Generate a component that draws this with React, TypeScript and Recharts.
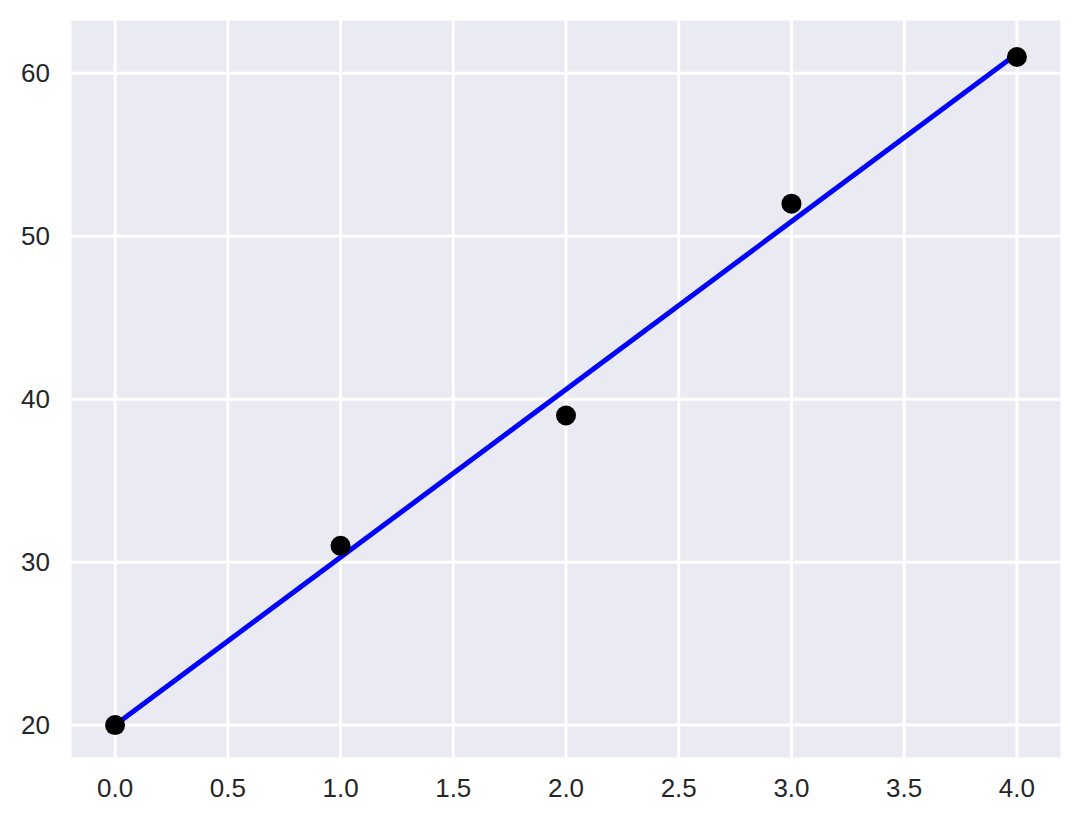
import { ComposedChart, Scatter, Line, XAxis, YAxis, CartesianGrid } from 'recharts'

// ─── Data ─────────────────────────────────────────────────────────────────────

const pointX = [0, 1, 2, 3, 4]
const pointY = [20, 31, 39, 52, 61]

// fitted line, read at its two ends
const fitX = [0, 4]
const fitY = [20.0, 61.2]

const xTicks = [0, 0.5, 1, 1.5, 2, 2.5, 3, 3.5, 4]
const yTicks = [20, 30, 40, 50, 60]

const points = pointX.map((x, i) => ({ x, y: pointY[i] }))
const fit = fitX.map((x, i) => ({ x, y: fitY[i] }))

// ─── Style ────────────────────────────────────────────────────────────────────

const TEXT_COLOR = '#262626'
const TICK_STYLE = { fill: TEXT_COLOR, fontSize: 26, fontFamily: '"Liberation Sans", Arial, sans-serif' }

const Dot = (props: any) => <circle cx={props.cx} cy={props.cy} r={10} fill="#000000" />

export default function App() {
  return (
    <div style={{ position: 'absolute', left: 0, top: 0, background: '#ffffff' }}>
      <ComposedChart width={1082} height={824} margin={{ top: 19, right: 20, bottom: 0, left: 0 }}>
        <CartesianGrid fill="#EAEAF2" stroke="#ffffff" strokeWidth={3} />
        <XAxis
          type="number"
          dataKey="x"
          domain={[-0.2, 4.2]}
          ticks={xTicks}
          tickFormatter={(v: number) => v.toFixed(1)}
          tick={TICK_STYLE}
          axisLine={false}
          tickLine={false}
          tickSize={0}
          tickMargin={20}
          height={65}
          allowDataOverflow
        />
        <YAxis
          type="number"
          dataKey="y"
          domain={[17.92, 63.33]}
          ticks={yTicks}
          tick={TICK_STYLE}
          axisLine={false}
          tickLine={false}
          tickSize={0}
          tickMargin={20}
          width={70}
          allowDataOverflow
        />
        <Scatter data={points} dataKey="y" shape={Dot} isAnimationActive={false} />
        <Line
          data={fit}
          dataKey="y"
          type="linear"
          stroke="#0000FF"
          strokeWidth={5}
          dot={false}
          activeDot={false}
          isAnimationActive={false}
        />
      </ComposedChart>
    </div>
  )
}
